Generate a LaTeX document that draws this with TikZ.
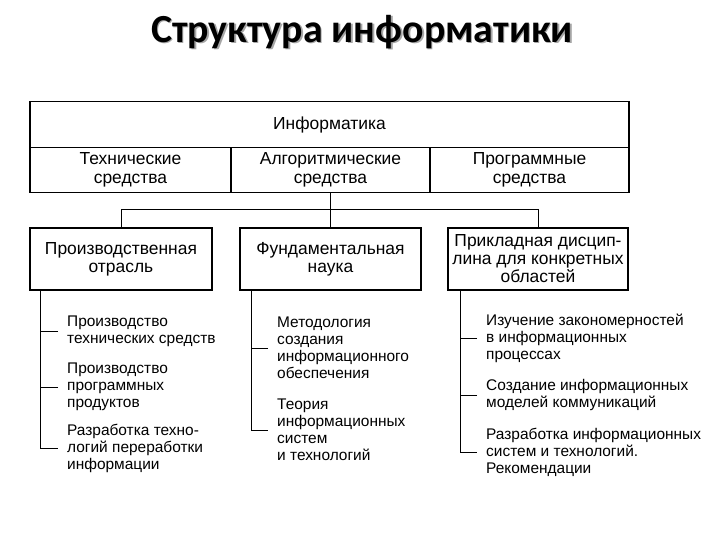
\documentclass[tikz,border=0pt]{standalone}
\usepackage{fontspec}
\setmainfont{Liberation Sans}
\newfontfamily\titlefont{Carlito}
\usetikzlibrary{calc}
\begin{document}
\begin{tikzpicture}[x=1bp,y=-1bp,
  cell/.style={draw, line width=1.3pt, align=center, inner sep=0pt, font=\fontsize{17.5}{19}\selectfont},
  box/.style={draw, line width=1.3pt, align=center, inner sep=0pt, minimum height=62bp, font=\fontsize{17.5}{18}\selectfont},
  item/.style={anchor=west, align=left, inner xsep=9bp, inner ysep=0pt, font=\fontsize{15.5}{17}\selectfont},
  conn/.style={line width=0.9pt},
  titletext/.style={font=\titlefont\bfseries\fontsize{40}{40}\selectfont}]
\useasboundingbox (0,0) rectangle (720,540);
% title
\node[titletext, text=black!35] (titleshadow) at (363.5,33.5) {Структура информатики};
\node[titletext] (title) at (362,32) {Структура информатики};
% top table
\node[cell, minimum width=599bp, minimum height=46bp] (inf) at (329.5,124.5) {Информатика};
\node[cell, minimum width=201bp, minimum height=45bp] (tech) at (130.5,170) {Технические\\средства};
\node[cell, minimum width=199bp, minimum height=45bp] (alg) at (330.5,170) {Алгоритмические\\средства};
\node[cell, minimum width=199bp, minimum height=45bp] (prog) at (529.5,170) {Программные\\средства};
% second level
\node[box, minimum width=182bp] (prod) at (121,259) {Производственная\\отрасль};
\node[box, minimum width=181bp] (fund) at (330.5,259) {Фундаментальная\\наука};
\node[box, minimum width=180bp] (appl) at (538,259) {Прикладная дисцип-\\лина для конкретных\\областей};
% connectors between levels
\draw[conn] (alg.south) -- (fund.north);
\draw[conn] (prod.north) -- ++(0,-18) -| (appl.north);
% items, column 1
\node[item] (p1) at (58,331) {Производство\\технических средств};
\node[item] (p2) at (58,387) {Производство\\программных\\продуктов};
\node[item] (p3) at (58,448) {Разработка техно-\\логий переработки\\информации};
\coordinate (pl) at ([xshift=11bp]prod.south west);
\draw[conn] (pl) |- (p3.west);
\draw[conn] (p1.west) -- (p1.west -| pl);
\draw[conn] (p2.west) -- (p2.west -| pl);
% items, column 2
\node[item] (f1) at (268,348) {Методология\\создания\\информационного\\обеспечения};
\node[item] (f2) at (268,430) {Теория\\информационных\\систем\\и технологий};
\coordinate (fl) at ([xshift=12bp]fund.south west);
\draw[conn] (fl) |- (f2.west);
\draw[conn] (f1.west) -- (f1.west -| fl);
% items, column 3
\node[item] (a1) at (477,338) {Изучение закономерностей\\в информационных\\процессах};
\node[item] (a2) at (477,395) {Создание информационных\\моделей коммуникаций};
\node[item] (a3) at (477,452) {Разработка информационных\\систем и технологий.\\Рекомендации};
\coordinate (al) at ([xshift=13bp]appl.south west);
\draw[conn] (al) |- (a3.west);
\draw[conn] (a1.west) -- (a1.west -| al);
\draw[conn] (a2.west) -- (a2.west -| al);
\end{tikzpicture}
\end{document}
